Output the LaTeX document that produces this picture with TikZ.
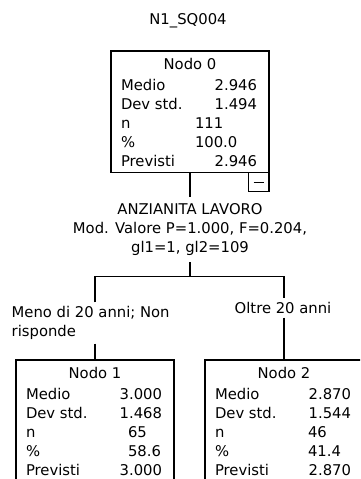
\documentclass[tikz,border=0pt]{standalone}
\usepackage{fontspec}
\setmainfont{DejaVu Sans}
\newcommand\statrows[8]{%
  \node[head] (#1-h) at ([shift={(0,18.5)}]#1.north) {#2};
  \node[cell] (#1-ml) at ([shift={(10,39)}]#1.north west) {Medio};
  \node[val]  (#1-mv) at ([shift={(146,39)}]#1.north west) {#3};
  \node[cell] (#1-dl) at ([shift={(10,58)}]#1.north west) {Dev std.};
  \node[val]  (#1-dv) at ([shift={(146,58)}]#1.north west) {#4};
  \node[cell] (#1-nl) at ([shift={(10,77)}]#1.north west) {n};
  \node[cell] (#1-nv) at ([shift={(#8,77)}]#1.north west) {#5};
  \node[cell] (#1-pl) at ([shift={(10,96)}]#1.north west) {\%};
  \node[cell] (#1-pv) at ([shift={(#8,96)}]#1.north west) {#6};
  \node[cell] (#1-rl) at ([shift={(10,115)}]#1.north west) {Previsti};
  \node[val]  (#1-rv) at ([shift={(146,115)}]#1.north west) {#7};
}
\begin{document}
\begin{tikzpicture}[x=1pt,y=-1pt,
  every node/.style={font=\fontsize{14.8}{19}\selectfont, inner sep=0pt, outer sep=0pt},
  box/.style={draw, line width=1.1pt, minimum width=158pt, minimum height=121.7pt},
  cell/.style={anchor=base west},
  val/.style={anchor=base east},
  head/.style={anchor=base},
  conn/.style={line width=1.1pt}]
\useasboundingbox (0,0) rectangle (360,479);
\clip (0,0) rectangle (360,479);

\node[head] (title) at (188,24) {N1\_SQ004};

\node[box] (n0) at (190,111.85) {};
\node[box] (n1) at (95,420.85) {};
\node[box] (n2) at (284,420.85) {};

\statrows{n0}{Nodo 0}{2.946}{1.494}{111}{100.0}{2.946}{84}
\statrows{n1}{Nodo 1}{3.000}{1.468}{65}{58.6}{3.000}{112}
\statrows{n2}{Nodo 2}{2.870}{1.544}{46}{41.4}{2.870}{103}

\node[draw, line width=1.1pt, minimum width=20.7pt, minimum height=19pt, anchor=north east]
  (coll) at (n0.south east) {\rule{10pt}{1pt}};

\node[align=center, anchor=north, outer ysep=6.5pt] (split) at (190,197.2)
  {ANZIANITA LAVORO\\Mod. Valore P=1.000, F=0.204,\\gl1=1, gl2=109};

\node[align=left, anchor=north west, outer ysep=4pt] (lab1) at (11.7,302.3)
  {Meno di 20 anni; Non\\risponde};
\node[anchor=base, outer ysep=4pt] (lab2) at (283,313.5) {Oltre 20 anni};

\coordinate (fork) at (190,276.7);
\draw[conn] (n0.south) -- (split.north);
\draw[conn] (split.south) -- (fork);
\draw[conn] (n1.north |- lab1.north) |- (fork) -| (n2.north |- lab2.north);
\draw[conn] (n1.north |- lab1.south) -- (n1.north);
\draw[conn] (n2.north |- lab2.south) -- (n2.north);
\end{tikzpicture}
\end{document}
